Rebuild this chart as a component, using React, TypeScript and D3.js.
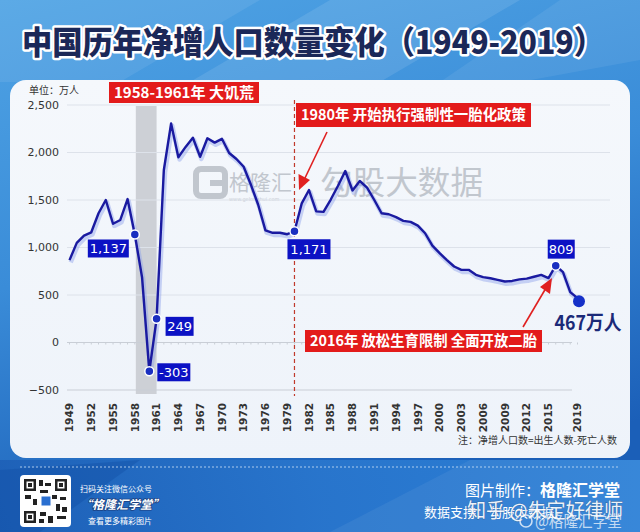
import React from "react";
import * as d3 from "d3";

const years: number[] = d3.range(1949, 2020);
const netIncrease: number[] = [
  867, 1049, 1126, 1160, 1360, 1500, 1250, 1290, 1510, 1137,
  685, -303, 249, 1816, 2305, 1950, 2059, 2155, 1955, 2150,
  2104, 2144, 1995, 1932, 1850, 1660, 1450, 1180, 1155, 1155,
  1140, 1171, 1465, 1605, 1380, 1375, 1505, 1650, 1805, 1600,
  1700, 1630, 1500, 1360, 1350, 1320, 1280, 1270, 1230, 1150,
  1020, 940, 868, 800, 765, 765, 712, 688, 676, 660,
  642, 648, 665, 672, 692, 712, 678, 809, 740, 530,
  467,
];
const xTickYears: number[] = [1949, 1952, 1955, 1958, 1961, 1964, 1967, 1970, 1973, 1976, 1979, 1982, 1985, 1988, 1991, 1994, 1997, 2000, 2003, 2006, 2009, 2012, 2015, 2019];
const yTicks: number[] = [-500, 0, 500, 1000, 1500, 2000, 2500];
const labeledYears: number[] = [1958, 1960, 1961, 1980, 2016];
const labelTexts: string[] = ["1,137", "-303", "249", "1,171", "809"];
// label box layout (offset of box left/top from point, width, height)
const labelLayout = [
  { dx: -47, dy: 5, w: 41, h: 18 },
  { dx: 8, dy: -8, w: 33, h: 18 },
  { dx: 9, dy: -2, w: 28, h: 19 },
  { dx: -7, dy: 8, w: 43, h: 20 },
  { dx: -8, dy: -26, w: 27, h: 19 },
];
const famineRange: number[] = [1958, 1961];
const policyYear = 1980;

const W = 640;
const H = 532;
const CJK = "'Noto Sans CJK SC', 'Noto Sans', sans-serif";
const SANS = "'DejaVu Sans', 'Noto Sans', sans-serif";

export default function App() {
  const x = d3.scaleLinear().domain([1949, 2019]).range([69.5, 577.5]);
  const y = d3.scaleLinear().domain([-500, 2500]).range([390, 105]);
  const data = years.map((yr, i) => ({ yr, v: netIncrease[i] }));
  const line = d3
    .line<{ yr: number; v: number }>()
    .x((d) => x(d.yr))
    .y((d) => y(d.v));
  const path = line(data) || "";
  const fmt = d3.format(",");
  const last = data[data.length - 1];

  return (
    <svg
      width={W}
      height={H}
      viewBox={`0 0 ${W} ${H}`}
      style={{ position: "absolute", left: 0, top: 0, display: "block" }}
    >
      <defs>
        <linearGradient id="bg" x1="0" y1="0" x2="0.3" y2="1">
          <stop offset="0" stopColor="#4fa3e4" />
          <stop offset="0.5" stopColor="#3a8cd8" />
          <stop offset="1" stopColor="#1b5fb8" />
        </linearGradient>
        <linearGradient id="foot" x1="0" y1="0" x2="1" y2="0">
          <stop offset="0" stopColor="#1d5fb6" />
          <stop offset="0.5" stopColor="#2a78cf" />
          <stop offset="1" stopColor="#2f86dc" />
        </linearGradient>
        <linearGradient id="panel" x1="0" y1="0" x2="0" y2="1">
          <stop offset="0" stopColor="#f5f8fc" />
          <stop offset="1" stopColor="#eef3fa" />
        </linearGradient>
      </defs>

      {/* background */}
      <rect x={0} y={0} width={W} height={H} fill="url(#bg)" />
      <polygon points="0,0 260,0 120,82 0,82" fill="#ffffff" opacity={0.08} />
      <polygon points="330,0 520,0 380,82 190,82" fill="#ffffff" opacity={0.1} />
      <polygon points="560,0 640,0 640,60 520,82 440,82" fill="#ffffff" opacity={0.07} />
      <rect x={0} y={460} width={W} height={72} fill="url(#foot)" opacity={0.85} />
      <polygon points="0,470 140,460 40,532 0,532" fill="#0f4aa0" opacity={0.35} />
      <polygon points="330,532 470,460 640,460 640,532" fill="#ffffff" opacity={0.06} />

      {/* title */}
      <text
        x={22}
        y={54}
        fontFamily={CJK}
        fontWeight={900}
        fontSize={32}
        textLength={582}
        lengthAdjust="spacingAndGlyphs"
        fill="#1b2858"
        stroke="#ffffff"
        strokeWidth={5}
        strokeLinejoin="round"
        paintOrder="stroke"
      >
        中国历年净增人口数量变化（1949-2019）
      </text>

      {/* panel */}
      <rect x={10} y={80} width={620} height={378} rx={16} fill="url(#panel)" />

      {/* watermark */}
      <g opacity={0.55}>
        <rect x={196} y={169} width={29} height={27} rx={5} fill="none" stroke="#9aa0aa" strokeWidth={6} />
        <rect x={210} y={180} width={15} height={6} fill="#9aa0aa" />
        <text x={229} y={190} fontFamily={CJK} fontSize={21} fill="#9aa0aa">格隆汇</text>
        <text x={229} y={201} fontFamily={SANS} fontSize={5} fill="#9aa0aa">www.gelonghui.com</text>
        <text x={320} y={194} fontFamily={CJK} fontSize={32} fill="#9aa0aa" textLength={163} lengthAdjust="spacingAndGlyphs">勾股大数据</text>
      </g>

      {/* famine band */}
      <rect
        x={x(famineRange[0]) + 1}
        y={106}
        width={x(famineRange[1]) - x(famineRange[0]) - 1}
        height={288}
        fill="#cdd0d6"
      />

      {/* grid */}
      {yTicks.map((t) => (
        <line
          key={t}
          x1={67}
          x2={t <= 0 ? 572 : 610}
          y1={y(t)}
          y2={y(t)}
          stroke={t <= 0 ? "#c9ced6" : "#dde2ea"}
          strokeWidth={1}
        />
      ))}
      {years.map((yr) => (
        <line key={yr} x1={x(yr)} x2={x(yr)} y1={y(0)} y2={y(0) + 2} stroke="#c9ced6" />
      ))}
      {yTicks.map((t) => (
        <text
          key={t}
          x={59}
          y={y(t)}
          dy="0.35em"
          textAnchor="end"
          fontFamily={SANS}
          fontSize={11}
          fill="#333"
        >
          {fmt(t)}
        </text>
      ))}
      {xTickYears.map((yr) => (
        <text
          key={yr}
          transform={`translate(${x(yr)},403) rotate(-90)`}
          textAnchor="end"
          dy="0.35em"
          fontFamily={SANS}
          fontWeight="bold"
          fontSize={10.5}
          fill="#333"
        >
          {yr}
        </text>
      ))}

      <text x={29} y={94} fontFamily={CJK} fontSize={10} fill="#333">单位：万人</text>

      {/* policy line */}
      <line
        x1={x(policyYear)}
        x2={x(policyYear)}
        y1={100}
        y2={396}
        stroke="#c0392b"
        strokeWidth={1.2}
        strokeDasharray="4 3"
      />

      {/* data line */}
      <path d={path} transform="translate(1.2,2.2)" fill="none" stroke="#8ea2ec" strokeWidth={4.5} opacity={0.45} strokeLinejoin="round" />
      <path d={path} fill="none" stroke="#1a1aa0" strokeWidth={2.4} strokeLinejoin="round" />

      {/* labeled points */}
      {labeledYears.map((yr, i) => {
        const v = netIncrease[years.indexOf(yr)];
        const px = x(yr);
        const py = y(v);
        const L = labelLayout[i];
        return (
          <g key={yr}>
            <circle cx={px} cy={py} r={4.5} fill="#1a2fc0" stroke="#ffffff" strokeWidth={1.5} />
            <rect x={px + L.dx} y={py + L.dy} width={L.w} height={L.h} fill="#0c12c4" />
            <text
              x={px + L.dx + L.w / 2}
              y={py + L.dy + L.h / 2}
              dy="0.36em"
              textAnchor="middle"
              fontFamily={SANS}
              fontSize={13}
              fill="#ffffff"
            >
              {labelTexts[i]}
            </text>
          </g>
        );
      })}
      <circle cx={x(last.yr) + 1.5} cy={y(last.v) + 3} r={6} fill="#1530c8" />
      <text
        x={x(last.yr) - 23}
        y={y(last.v) + 32}
        fontFamily={CJK}
        fontWeight="bold"
        fontSize={20}
        fill="#1b2a78"
        textLength={67}
        lengthAdjust="spacingAndGlyphs"
      >
        {`${last.v}万人`}
      </text>

      {/* red annotation boxes */}
      <rect x={109} y={82} width={150} height={21} fill="#e31b1b" />
      <text x={184} y={93} dy="0.36em" textAnchor="middle" fontFamily={CJK} fontWeight="bold" fontSize={15} fill="#fff" textLength={140} lengthAdjust="spacingAndGlyphs">
        1958-1961年 大饥荒
      </text>
      <rect x={296} y={103} width={235} height={24} fill="#e31b1b" />
      <text x={413.5} y={115} dy="0.36em" textAnchor="middle" fontFamily={CJK} fontWeight="bold" fontSize={15} fill="#fff" textLength={225} lengthAdjust="spacingAndGlyphs">
        1980年 开始执行强制性一胎化政策
      </text>
      <rect x={305} y={330} width={237} height={22} fill="#e31b1b" />
      <text x={423.5} y={341} dy="0.36em" textAnchor="middle" fontFamily={CJK} fontWeight="bold" fontSize={15} fill="#fff" textLength={227} lengthAdjust="spacingAndGlyphs">
        2016年 放松生育限制 全面开放二胎
      </text>

      {/* arrows */}
      <line x1={327} y1={132} x2={305} y2={178} stroke="#e02020" strokeWidth={1.6} />
      <polygon points="299,190 298.5,174 310,180" fill="#e02020" />
      <line x1={523} y1={327} x2={546} y2={288} stroke="#e02020" strokeWidth={1.6} />
      <polygon points="552,278 550,294 540,287" fill="#e02020" />

      {/* note */}
      <text x={617} y={444} textAnchor="end" fontFamily={CJK} fontSize={10} fill="#333">
        注：净增人口数=出生人数-死亡人数
      </text>

      {/* footer */}
      <line x1={20} x2={620} y1={467} y2={467} stroke="#cfe3f7" strokeWidth={1} strokeDasharray="2 2" opacity={0.8} />
      <rect x={20} y={475} width={51} height={52} rx={4} fill="#ffffff" />
      <g fill="#222">
        <rect x={24} y={479} width={12} height={12} />
        <rect x={55} y={479} width={12} height={12} />
        <rect x={24} y={511} width={12} height={12} />
        <rect x={26.5} y={481.5} width={7} height={7} fill="#fff" />
        <rect x={57.5} y={481.5} width={7} height={7} fill="#fff" />
        <rect x={26.5} y={513.5} width={7} height={7} fill="#fff" />
        <rect x={28} y={483} width={4} height={4} />
        <rect x={59} y={483} width={4} height={4} />
        <rect x={28} y={515} width={4} height={4} />
        <rect x={39} y={480} width={4} height={6} />
        <rect x={45} y={483} width={6} height={3} />
        <rect x={40} y={490} width={8} height={3} />
        <rect x={25} y={495} width={6} height={4} />
        <rect x={33} y={499} width={4} height={6} />
        <rect x={52} y={495} width={5} height={4} />
        <rect x={60} y={497} width={6} height={3} />
        <rect x={56} y={504} width={4} height={7} />
        <rect x={62} y={507} width={5} height={5} />
        <rect x={40} y={512} width={6} height={4} />
        <rect x={48} y={516} width={5} height={7} />
        <rect x={57} y={516} width={9} height={3} />
        <rect x={39} y={519} width={5} height={4} />
      </g>
      <rect x={41} y={496} width={10} height={10} fill="#2a6fd0" stroke="#fff" strokeWidth={1} />
      <text x={80} y={492} fontFamily={CJK} fontSize={8} fill="#ffffff">扫码关注微信公众号</text>
      <text x={80} y={509} fontFamily={CJK} fontWeight="bold" fontStyle="italic" fontSize={12} fill="#ffffff" stroke="#1b3f80" strokeWidth={1.5} paintOrder="stroke">“格隆汇学堂”</text>
      <text x={88} y={524} fontFamily={CJK} fontSize={8} fill="#ffffff">查看更多精彩图片</text>

      <text x={620} y={496} textAnchor="end" fontFamily={CJK} fontSize={15} fill="#ffffff">
        图片制作：<tspan fontWeight="bold" fontSize={16}>格隆汇学堂</tspan>
      </text>
      <text x={424} y={517} fontFamily={CJK} fontSize={13} fill="#ffffff">数据支持：勾股大数据</text>
      <text x={467} y={518} fontFamily={CJK} fontSize={20} fill="#ffffff" opacity={0.9} stroke="#3a5a8a" strokeWidth={0.6} paintOrder="stroke" textLength={156} lengthAdjust="spacingAndGlyphs">
        知乎 @朱定好律师
      </text>
      <circle cx={526} cy={521} r={6} fill="none" stroke="#ffffff" strokeWidth={1.6} opacity={0.75} />
      <text x={535} y={527} fontFamily={CJK} fontSize={16} fill="#ffffff" opacity={0.7} textLength={87} lengthAdjust="spacingAndGlyphs">@格隆汇学堂</text>
    </svg>
  );
}
